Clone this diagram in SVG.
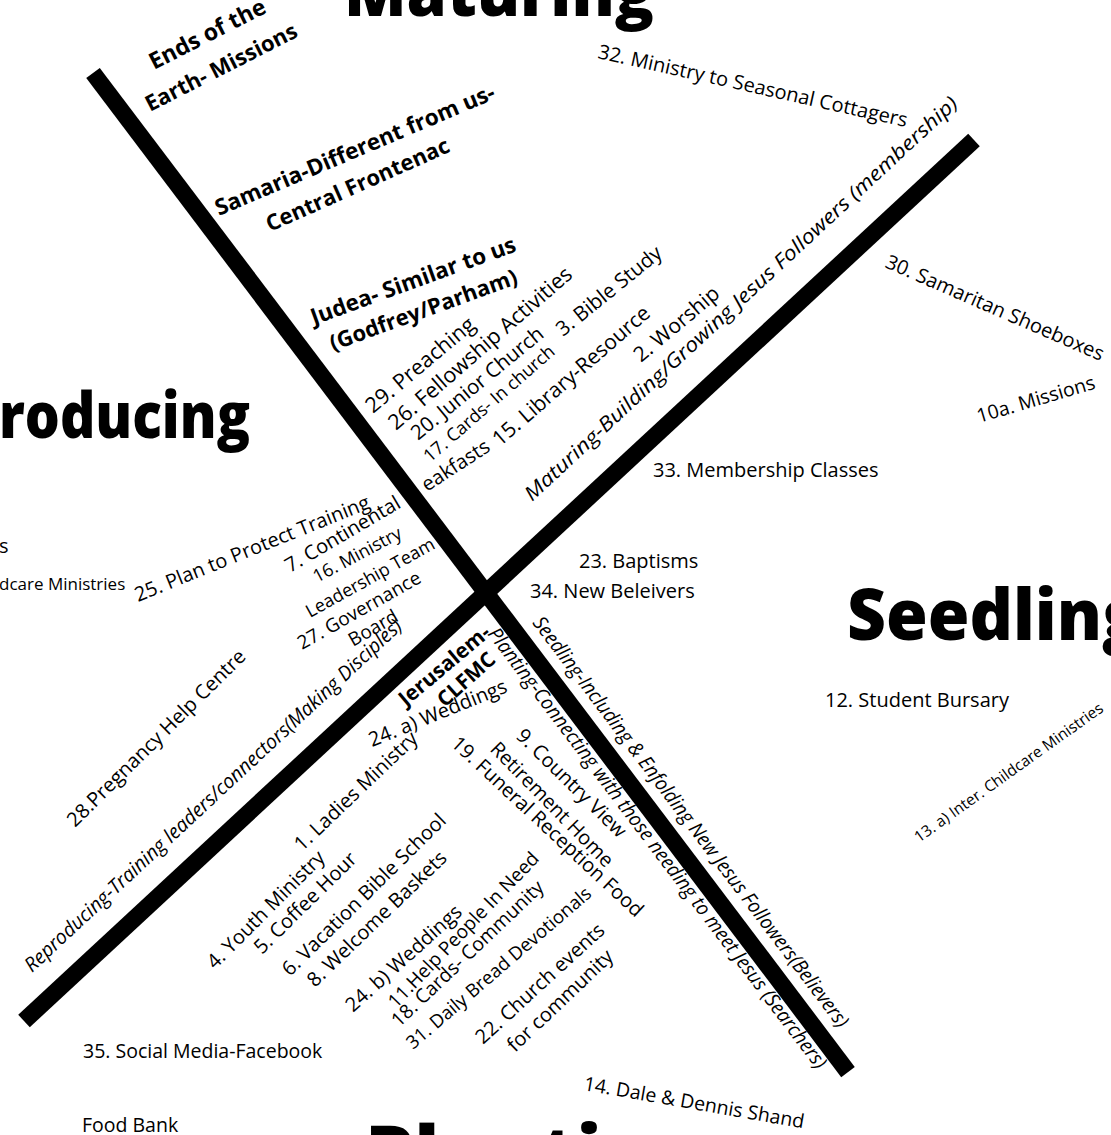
<svg xmlns="http://www.w3.org/2000/svg" width="1111" height="1135" viewBox="0 0 1111 1135">
<style>
text{font-family:"Open Sans","Noto Sans","DejaVu Sans",sans-serif;fill:#000}
.h{font-weight:800}
.b{font-weight:700;font-size:22px}
.t{font-size:20px}
.i{font-style:italic;font-size:20px}
.ax{stroke:#000;stroke-width:17;stroke-linecap:butt;fill:none}
</style>
<rect width="1111" height="1135" fill="#fff"/>
<g id="connectors">
<line class="ax" x1="93" y1="73" x2="848" y2="1072"/>
<line class="ax" x1="24" y1="1021" x2="974" y2="140"/>
</g>
<g id="headers">
<text class="h" x="344" y="16" font-size="66" textLength="310" lengthAdjust="spacingAndGlyphs">Maturing</text>
<text class="h" x="-1" y="438" font-size="64" textLength="251" lengthAdjust="spacingAndGlyphs">roducing</text>
<text class="h" x="847" y="640" font-size="70" textLength="296" lengthAdjust="spacingAndGlyphs">Seedling</text>
<text class="h" x="365" y="1182" font-size="78">Planting</text>
</g>
<g id="upper-wedge">
<text class="b" transform="translate(154,70) rotate(-27)" style="font-size:23px">Ends of the</text>
<text class="b" transform="translate(150,112) rotate(-27)">Earth- Missions</text>
<text class="b" transform="translate(219,216) rotate(-23)" style="font-size:22.5px">Samaria-Different from us-</text>
<text class="b" transform="translate(270,232) rotate(-24)">Central Frontenac</text>
<text class="b" transform="translate(314,325) rotate(-20)" style="font-size:22.5px">Judea- Similar to us</text>
<text class="b" transform="translate(333,351) rotate(-20)">(Godfrey/Parham)</text>
<text class="t" transform="translate(373,414) rotate(-40)" style="font-size:21.5px">29. Preaching</text>
<text class="t" transform="translate(396,431) rotate(-41)" style="font-size:21.5px">26. Fellowship Activities</text>
<text class="t" transform="translate(418,441) rotate(-39.5)" style="font-size:20.5px">20. Junior Church</text>
<text class="t" transform="translate(563,337) rotate(-39)" style="font-size:20.5px">3. Bible Study</text>
<text class="t" transform="translate(430,463) rotate(-41)" style="font-size:18px">17. Cards- In church</text>
<text class="t" transform="translate(500,447) rotate(-41)" style="font-size:21px">15. Library-Resource</text>
<text class="t" transform="translate(641,363) rotate(-40)" style="font-size:21px">2. Worship</text>
<text class="t" transform="translate(427,492) rotate(-33)">eakfasts</text>
<text class="i" transform="translate(532,502) rotate(-42.9)" textLength="583" lengthAdjust="spacingAndGlyphs">Maturing-Building/Growing Jesus Followers (membership)</text>
</g>
<g id="left-wedge">
<text class="t" transform="translate(138,602) rotate(-22)">25. Plan to Protect Training</text>
<text class="t" transform="translate(290,573) rotate(-30.5)">7. Continental</text>
<text class="t" transform="translate(317,583) rotate(-28)" style="font-size:18px">16. Ministry</text>
<text class="t" transform="translate(310,618) rotate(-29)" style="font-size:18px">Leadership Team</text>
<text class="t" transform="translate(302,650) rotate(-29.5)" style="font-size:19px">27. Governance</text>
<text class="t" transform="translate(353,647) rotate(-30)" style="font-size:19px">Board</text>
<text class="t" transform="translate(75,828) rotate(-44.7)">28.Pregnancy Help Centre</text>
<text class="i" transform="translate(32,973) rotate(-42.9)" textLength="507" lengthAdjust="spacingAndGlyphs">Reproducing-Training leaders/connectors(Making Disciples)</text>
<text class="t" x="-1" y="553">s</text>
<text class="t" x="-1" y="590" style="font-size:17px">dcare Ministries</text>
</g>
<g id="lower-wedge">
<text class="b" transform="translate(406,707) rotate(-40)" style="font-size:21px">Jerusalem-</text>
<text class="b" transform="translate(445,708) rotate(-42)" style="font-size:21px">CLFMC</text>
<text class="t" transform="translate(372,747) rotate(-22)">24. a) Weddings</text>
<text class="t" transform="translate(302,852) rotate(-43.7)">1. Ladies Ministry</text>
<text class="t" transform="translate(215,970) rotate(-45)">4. Youth Ministry</text>
<text class="t" transform="translate(262,955) rotate(-44.6)">5. Coffee Hour</text>
<text class="t" transform="translate(290,977) rotate(-44.6)">6. Vacation Bible School</text>
<text class="t" transform="translate(315,988) rotate(-44)">8. Welcome Baskets</text>
<text class="t" transform="translate(353,1013) rotate(-42)">24. b) Weddings</text>
<text class="t" transform="translate(396,1009) rotate(-46)" style="font-size:19px">11.Help People In Need</text>
<text class="t" transform="translate(399,1028) rotate(-43.6)" style="font-size:19.5px">18. Cards- Community</text>
<text class="t" transform="translate(413,1050) rotate(-40.7)" style="font-size:18.6px">31. Daily Bread Devotionals</text>
<text class="t" transform="translate(483,1045) rotate(-42.6)">22. Church events</text>
<text class="t" transform="translate(515,1053) rotate(-43.6)">for community</text>
<text class="t" transform="translate(515,737) rotate(44.5)">9. Country View</text>
<text class="t" transform="translate(489,750) rotate(45.5)">Retirement Home</text>
<text class="t" transform="translate(450,745) rotate(43)">19. Funeral Reception Food</text>
<text class="i" transform="translate(487,634) rotate(52.9)" textLength="547" lengthAdjust="spacingAndGlyphs">Planting-Connecting with those needing to meet Jesus (Searchers)</text>
</g>
<g id="right-wedge">
<text class="i" transform="translate(532,623) rotate(52.9)" textLength="509" lengthAdjust="spacingAndGlyphs">Seedling-Including &amp; Enfolding New Jesus Followers(Believers)</text>
<text class="t" transform="translate(597,58) rotate(12.6)">32. Ministry to Seasonal Cottagers</text>
<text class="t" transform="translate(884,267) rotate(23.5)">30. Samaritan Shoeboxes</text>
<text class="t" transform="translate(979,423) rotate(-16.4)" style="font-size:19.5px">10a. Missions</text>
<text class="t" x="653" y="477">33. Membership Classes</text>
<text class="t" x="579" y="568">23. Baptisms</text>
<text class="t" x="530" y="598">34. New Beleivers</text>
<text class="t" x="825" y="707">12. Student Bursary</text>
<text class="t" transform="translate(919,843) rotate(-35.5)" style="font-size:15.5px">13. a) Inter. Childcare Ministries</text>
<text class="t" x="83" y="1058" style="font-size:19.5px">35. Social Media-Facebook</text>
<text class="t" x="82" y="1132" style="font-size:19.5px">Food Bank</text>
<text class="t" transform="translate(583,1090) rotate(9.9)" style="font-size:19.5px">14. Dale &amp; Dennis Shand</text>
</g>
</svg>
